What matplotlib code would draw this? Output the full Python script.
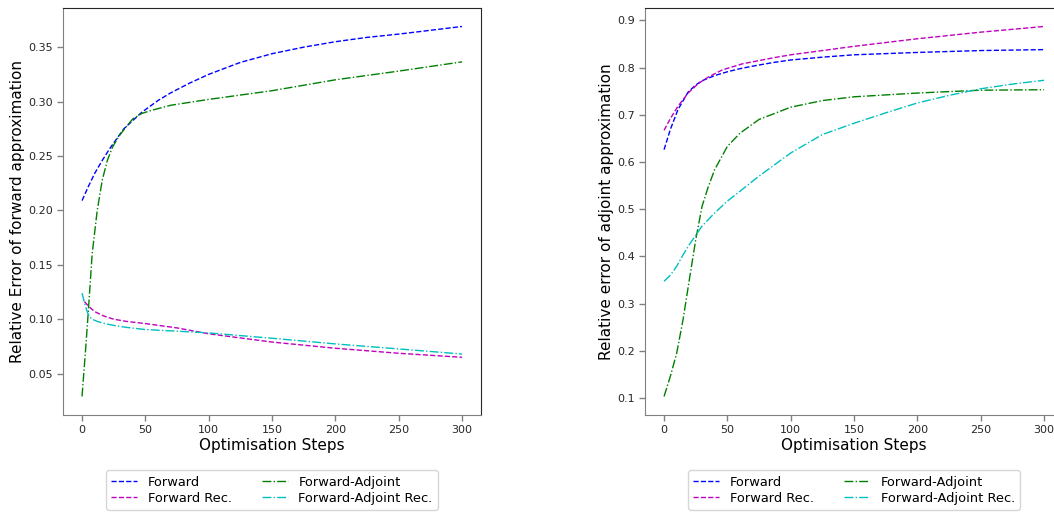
import matplotlib
matplotlib.use('Agg')
import matplotlib.pyplot as plt

# left panel: relative error of forward approximation
fwd_steps = [0, 5, 10, 16, 22, 33, 47, 60, 70, 85, 100, 125, 150, 175, 200, 225, 250, 275, 300]
fwd_err = [0.209, 0.222, 0.234, 0.246, 0.257, 0.275, 0.290, 0.301, 0.308, 0.317, 0.325, 0.336,
           0.344, 0.350, 0.355, 0.359, 0.362, 0.3655, 0.369]

fwd_rec_steps = [2, 6, 10, 17, 25, 35, 50, 75, 100, 150, 200, 250, 300]
fwd_rec_err = [0.116, 0.111, 0.107, 0.103, 0.100, 0.098, 0.096, 0.092, 0.0866, 0.079, 0.0733,
               0.0687, 0.065]

fa_steps = [0, 3, 5, 8, 12, 16, 20, 24, 29, 35, 40, 47, 55, 70, 100, 150, 200, 250, 300]
fa_err = [0.029, 0.075, 0.108, 0.160, 0.200, 0.228, 0.246, 0.258, 0.268, 0.277, 0.284, 0.289,
          0.292, 0.2966, 0.302, 0.310, 0.320, 0.328, 0.3365]

fa_rec_steps = [0, 2, 4, 6, 9, 12, 18, 25, 35, 50, 75, 100, 150, 200, 250, 300]
fa_rec_err = [0.124, 0.115, 0.107, 0.102, 0.0995, 0.098, 0.096, 0.0943, 0.0925, 0.0905, 0.089,
              0.0874, 0.0825, 0.0773, 0.0727, 0.068]

# right panel: relative error of adjoint approximation
adj_fwd_steps = [0, 5, 11, 19, 25, 30, 40, 50, 59, 70, 87, 100, 125, 150, 200, 250, 300]
adj_fwd_err = [0.626, 0.669, 0.711, 0.748, 0.763, 0.772, 0.783, 0.791, 0.797, 0.803, 0.811,
               0.816, 0.822, 0.827, 0.832, 0.836, 0.838]

adj_fwd_rec_steps = [0, 5, 11, 19, 27, 35, 46, 62, 87, 100, 125, 150, 200, 250, 300]
adj_fwd_rec_err = [0.667, 0.692, 0.718, 0.746, 0.766, 0.780, 0.795, 0.808, 0.821, 0.827, 0.836,
                   0.845, 0.861, 0.875, 0.887]

adj_fa_steps = [0, 5, 10, 15, 20, 25, 30, 35, 40, 50, 60, 75, 100, 125, 150, 200, 250, 300]
adj_fa_err = [0.103, 0.146, 0.195, 0.266, 0.351, 0.435, 0.506, 0.548, 0.584, 0.633, 0.661, 0.690,
              0.716, 0.730, 0.738, 0.746, 0.752, 0.753]

adj_fa_rec_steps = [0, 5, 10, 15, 20, 30, 40, 50, 60, 75, 100, 125, 150, 175, 200, 225, 250, 275, 300]
adj_fa_rec_err = [0.347, 0.360, 0.379, 0.403, 0.425, 0.464, 0.492, 0.517, 0.538, 0.570, 0.619,
                  0.658, 0.682, 0.704, 0.725, 0.741, 0.755, 0.765, 0.773]

labels = ['Forward', 'Forward Rec.', 'Forward-Adjoint', 'Forward-Adjoint Rec.']

fig = plt.figure(figsize=(10.54, 5.12), dpi=100)
ax1 = fig.add_axes([0.0598, 0.1895, 0.3966, 0.7949])
ax2 = fig.add_axes([0.612, 0.1895, 0.3966, 0.7949])


def style_axes(ax, ylabel):
    for s in ['left', 'bottom']:
        ax.spines[s].set_color('0.5')
    for s in ['top', 'right']:
        ax.spines[s].set_color('0.15')
    ax.tick_params(direction='out', length=4, width=1, color='0.5',
                   labelcolor='0.15', labelsize=8)
    ax.set_xlabel('Optimisation Steps', fontsize=11, labelpad=2)
    ax.set_ylabel(ylabel, fontsize=11, labelpad=2)
    ax.set_xticks([0, 50, 100, 150, 200, 250, 300])
    ax.legend(loc='upper center', bbox_to_anchor=(0.5, -0.12), ncol=2,
              fontsize=9.4, frameon=True, columnspacing=2.3, labelspacing=0.25,
              borderpad=0.4)


# legend columns: Forward, Forward Rec. | Forward-Adjoint, Forward-Adjoint Rec.
ax1.plot(fwd_steps, fwd_err, 'b--', lw=1, label=labels[0])
ax1.plot(fwd_rec_steps, fwd_rec_err, 'm--', lw=1, label=labels[1])
ax1.plot(fa_steps, fa_err, 'g-.', lw=1, label=labels[2])
ax1.plot(fa_rec_steps, fa_rec_err, 'c-.', lw=1, label=labels[3])
ax1.set_xlim(-15, 315)
style_axes(ax1, 'Relative Error of forward approximation')

ax2.plot(adj_fwd_steps, adj_fwd_err, 'b--', lw=1, label=labels[0])
ax2.plot(adj_fwd_rec_steps, adj_fwd_rec_err, 'm--', lw=1, label=labels[1])
ax2.plot(adj_fa_steps, adj_fa_err, 'g-.', lw=1, label=labels[2])
ax2.plot(adj_fa_rec_steps, adj_fa_rec_err, 'c-.', lw=1, label=labels[3])
ax2.set_xlim(-15, 315)
style_axes(ax2, 'Relative error of adjoint approximation')

fig.savefig('out.png', dpi=100)
